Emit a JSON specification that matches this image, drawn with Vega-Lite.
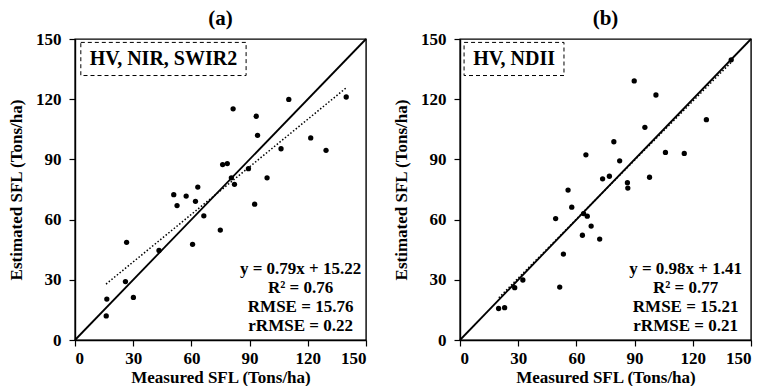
{
  "$schema": "https://vega.github.io/schema/vega-lite/v6.json",
  "padding": {"left": 6, "top": 7, "right": 0, "bottom": 0},
  "background": "white",
  "spacing": 94,
  "bounds": "flush",
  "config": {
    "view": {"stroke": "black", "strokeWidth": 1.4},
    "font": "Liberation Serif",
    "axis": {
      "grid": false,
      "domainColor": "black",
      "domainWidth": 1.4,
      "tickColor": "black",
      "tickWidth": 1.2,
      "tickSize": 6,
      "labelFont": "Liberation Serif",
      "labelFontWeight": "bold",
      "labelFontSize": 17,
      "labelColor": "black",
      "titleFont": "Liberation Serif",
      "titleFontWeight": "bold",
      "titleFontSize": 17,
      "titleColor": "black"
    },
    "axisY": {"labelPadding": 8, "titlePadding": 10},
    "axisX": {"labelPadding": 4, "titlePadding": 3},
    "title": {"font": "Liberation Serif", "fontWeight": "bold", "fontSize": 21, "color": "black", "offset": 1}
  },
  "datasets": {
    "a": [
      {"measured": 16.4, "estimated": 20.4},
      {"measured": 16.1, "estimated": 12.0},
      {"measured": 26.0, "estimated": 29.1},
      {"measured": 26.6, "estimated": 48.7},
      {"measured": 30.1, "estimated": 21.2},
      {"measured": 43.3, "estimated": 44.6},
      {"measured": 50.9, "estimated": 72.4},
      {"measured": 52.6, "estimated": 67.0},
      {"measured": 57.3, "estimated": 71.7},
      {"measured": 63.3, "estimated": 76.2},
      {"measured": 62.1, "estimated": 69.1},
      {"measured": 60.6, "estimated": 47.7},
      {"measured": 66.4, "estimated": 61.9},
      {"measured": 74.9, "estimated": 54.8},
      {"measured": 76.1, "estimated": 87.4},
      {"measured": 78.5, "estimated": 87.9},
      {"measured": 80.6, "estimated": 80.8},
      {"measured": 82.2, "estimated": 77.6},
      {"measured": 81.5, "estimated": 115.2},
      {"measured": 89.4, "estimated": 85.4},
      {"measured": 92.6, "estimated": 67.7},
      {"measured": 93.4, "estimated": 111.5},
      {"measured": 94.1, "estimated": 102.0},
      {"measured": 99.0, "estimated": 80.8},
      {"measured": 106.2, "estimated": 95.3},
      {"measured": 110.2, "estimated": 119.9},
      {"measured": 121.5, "estimated": 100.7},
      {"measured": 129.4, "estimated": 94.5},
      {"measured": 139.8, "estimated": 121.1}
    ],
    "b": [
      {"measured": 19.9, "estimated": 15.7},
      {"measured": 23.0, "estimated": 16.1},
      {"measured": 28.2, "estimated": 26.1},
      {"measured": 32.4, "estimated": 29.9},
      {"measured": 51.4, "estimated": 26.4},
      {"measured": 53.3, "estimated": 42.8},
      {"measured": 49.3, "estimated": 60.5},
      {"measured": 55.7, "estimated": 74.7},
      {"measured": 57.6, "estimated": 66.2},
      {"measured": 63.1, "estimated": 52.2},
      {"measured": 63.7, "estimated": 63.0},
      {"measured": 65.6, "estimated": 61.7},
      {"measured": 64.9, "estimated": 92.3},
      {"measured": 67.6, "estimated": 56.8},
      {"measured": 72.0, "estimated": 50.3},
      {"measured": 73.5, "estimated": 80.3},
      {"measured": 77.0, "estimated": 81.6},
      {"measured": 79.3, "estimated": 98.8},
      {"measured": 82.3, "estimated": 89.3},
      {"measured": 86.3, "estimated": 78.4},
      {"measured": 86.5, "estimated": 75.7},
      {"measured": 89.8, "estimated": 129.1},
      {"measured": 95.3, "estimated": 106.0},
      {"measured": 97.7, "estimated": 81.1},
      {"measured": 101.0, "estimated": 122.1},
      {"measured": 105.9, "estimated": 93.5},
      {"measured": 115.6, "estimated": 93.0},
      {"measured": 127.0, "estimated": 109.8},
      {"measured": 139.8, "estimated": 139.6}
    ]
  },
  "hconcat": [
    {
      "width": 291,
      "height": 301,
      "title": {"text": "(a)"},
      "layer": [
        {
          "data": {"name": "a"},
          "mark": {"type": "circle", "color": "black", "opacity": 1, "size": 28},
          "encoding": {
            "x": {"field": "measured", "type": "quantitative", "scale": {"domain": [0, 150], "nice": false}, "axis": {"values": [0, 30, 60, 90, 120, 150], "title": "Measured SFL (Tons/ha)"}},
            "y": {"field": "estimated", "type": "quantitative", "scale": {"domain": [0, 150], "nice": false}, "axis": {"values": [0, 30, 60, 90, 120, 150], "title": "Estimated SFL (Tons/ha)"}}
          }
        },
        {
          "data": {"values": [{}]},
          "mark": {"type": "rule", "color": "black", "strokeWidth": 1.8},
          "encoding": {
            "x": {"datum": 0, "type": "quantitative"},
            "y": {"datum": 0, "type": "quantitative"},
            "x2": {"datum": 150},
            "y2": {"datum": 150}
          }
        },
        {
          "data": {"values": [{}]},
          "mark": {"type": "rule", "color": "black", "strokeWidth": 1.5, "strokeDash": [1.5, 2]},
          "encoding": {
            "x": {"datum": 16, "type": "quantitative"},
            "y": {"datum": 27.86, "type": "quantitative"},
            "x2": {"datum": 140},
            "y2": {"datum": 125.82}
          }
        },
        {
          "data": {"values": [{}]},
          "mark": {"type": "rect", "fill": "white", "stroke": "black", "strokeWidth": 1, "strokeDash": [4, 3]},
          "encoding": {
            "x": {"datum": 3, "type": "quantitative"},
            "x2": {"datum": 88.2},
            "y": {"datum": 148.3, "type": "quantitative"},
            "y2": {"datum": 131.8}
          }
        },
        {
          "data": {"values": [{"label": "HV, NIR, SWIR2"}]},
          "mark": {"type": "text", "font": "Liberation Serif", "fontWeight": "bold", "fontSize": 20, "color": "black", "align": "center", "baseline": "middle"},
          "encoding": {
            "x": {"datum": 45.6, "type": "quantitative"},
            "y": {"datum": 140, "type": "quantitative"},
            "text": {"field": "label"}
          }
        },
        {
          "data": {"values": [{}]},
          "mark": {"type": "text", "font": "Liberation Serif", "fontWeight": "bold", "fontSize": 17, "color": "black", "align": "center", "baseline": "middle", "lineHeight": 19.2,
            "text": ["y = 0.79x + 15.22", "R² = 0.76", "RMSE = 15.76", "rRMSE = 0.22"]},
          "encoding": {
            "x": {"datum": 116.3, "type": "quantitative"},
            "y": {"datum": 35.6, "type": "quantitative"}
          }
        }
      ]
    },
    {
      "width": 291,
      "height": 301,
      "title": {"text": "(b)"},
      "layer": [
        {
          "data": {"name": "b"},
          "mark": {"type": "circle", "color": "black", "opacity": 1, "size": 28},
          "encoding": {
            "x": {"field": "measured", "type": "quantitative", "scale": {"domain": [0, 150], "nice": false}, "axis": {"values": [0, 30, 60, 90, 120, 150], "title": "Measured SFL (Tons/ha)"}},
            "y": {"field": "estimated", "type": "quantitative", "scale": {"domain": [0, 150], "nice": false}, "axis": {"values": [0, 30, 60, 90, 120, 150], "title": "Estimated SFL (Tons/ha)"}}
          }
        },
        {
          "data": {"values": [{}]},
          "mark": {"type": "rule", "color": "black", "strokeWidth": 1.8},
          "encoding": {
            "x": {"datum": 0, "type": "quantitative"},
            "y": {"datum": 0, "type": "quantitative"},
            "x2": {"datum": 150},
            "y2": {"datum": 150}
          }
        },
        {
          "data": {"values": [{}]},
          "mark": {"type": "rule", "color": "black", "strokeWidth": 1.5, "strokeDash": [1.5, 2]},
          "encoding": {
            "x": {"datum": 20, "type": "quantitative"},
            "y": {"datum": 21.01, "type": "quantitative"},
            "x2": {"datum": 140},
            "y2": {"datum": 138.61}
          }
        },
        {
          "data": {"values": [{}]},
          "mark": {"type": "rect", "fill": "white", "stroke": "black", "strokeWidth": 1, "strokeDash": [4, 3]},
          "encoding": {
            "x": {"datum": 2.1, "type": "quantitative"},
            "x2": {"datum": 53.6},
            "y": {"datum": 148.3, "type": "quantitative"},
            "y2": {"datum": 131.8}
          }
        },
        {
          "data": {"values": [{"label": "HV, NDII"}]},
          "mark": {"type": "text", "font": "Liberation Serif", "fontWeight": "bold", "fontSize": 20, "color": "black", "align": "center", "baseline": "middle"},
          "encoding": {
            "x": {"datum": 27.9, "type": "quantitative"},
            "y": {"datum": 140, "type": "quantitative"},
            "text": {"field": "label"}
          }
        },
        {
          "data": {"values": [{}]},
          "mark": {"type": "text", "font": "Liberation Serif", "fontWeight": "bold", "fontSize": 17, "color": "black", "align": "center", "baseline": "middle", "lineHeight": 19.2,
            "text": ["y = 0.98x + 1.41", "R² = 0.77", "RMSE = 15.21", "rRMSE = 0.21"]},
          "encoding": {
            "x": {"datum": 116.3, "type": "quantitative"},
            "y": {"datum": 35.6, "type": "quantitative"}
          }
        }
      ]
    }
  ]
}
